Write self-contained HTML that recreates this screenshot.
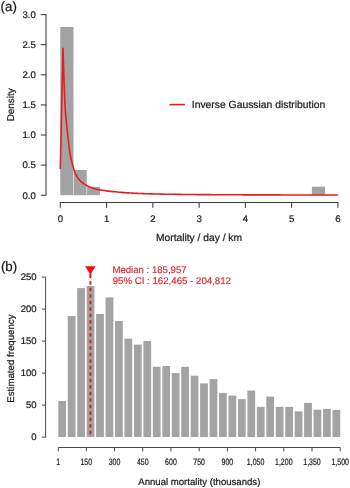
<!DOCTYPE html><html><head><meta charset="utf-8"><style>
html,body{margin:0;padding:0;background:#fff;width:350px;height:488px;overflow:hidden}
svg{display:block;filter:blur(0.25px)}text{font-family:"Liberation Sans",sans-serif;fill:#1a1a1a;stroke:#1a1a1a;stroke-width:0.22px;text-rendering:geometricPrecision}text.r{fill:#e0232b;stroke:#e0232b;stroke-width:0.15px}
</style></head><body>
<svg width="350" height="488" viewBox="0 0 350 488">
<rect width="350" height="488" fill="#fff"/>
<text x="0.6" y="11.1" font-size="13.3">(a)</text>
<rect x="60.30" y="27.00" width="13.22" height="168.20" fill="#a3a3a3"/>
<rect x="73.52" y="170.00" width="13.22" height="25.20" fill="#a3a3a3"/>
<rect x="86.74" y="186.90" width="13.22" height="8.30" fill="#a3a3a3"/>
<rect x="311.88" y="186.70" width="13.22" height="8.50" fill="#a3a3a3"/>
<path d="M73.52 195.2V170M86.74 195.2V186.9" stroke="#fff" stroke-opacity="0.45" stroke-width="0.9"/>
<polyline points="60.30,169.00 63.00,48.30 63.29,57.94 63.58,67.02 63.86,75.57 64.15,83.57 64.44,91.03 64.73,98.27 65.02,104.88 65.31,110.08 65.59,113.84 65.88,116.91 66.17,119.70 66.46,122.60 66.75,125.57 67.03,128.48 67.32,131.31 67.61,134.02 67.90,136.62 68.19,139.15 68.47,141.66 68.76,144.25 69.05,146.80 69.34,149.07 69.63,150.98 69.92,152.72 70.20,154.32 70.49,155.81 70.78,157.24 71.07,158.62 71.36,159.97 71.64,161.26 71.93,162.49 72.22,163.66 72.51,164.76 72.80,165.81 73.08,166.83 73.37,167.82 73.66,168.77 73.95,169.67 74.24,170.52 74.53,171.31 74.81,172.03 75.10,172.71 75.39,173.35 75.68,173.97 75.97,174.56 76.25,175.12 76.54,175.65 76.83,176.16 77.12,176.65 77.41,177.11 77.69,177.55 77.98,177.96 78.27,178.37 78.56,178.76 78.85,179.14 79.14,179.51 79.42,179.86 79.71,180.21 80.00,180.54 80.50,181.08 82.66,182.99 84.83,184.45 86.99,185.64 89.16,186.69 91.32,187.61 93.48,188.36 95.65,188.97 97.81,189.48 99.97,189.90 102.14,190.25 104.30,190.57 106.47,190.86 108.63,191.12 110.79,191.37 112.96,191.60 115.12,191.81 117.29,192.02 119.45,192.22 121.61,192.41 123.78,192.59 125.94,192.75 128.11,192.89 130.27,193.01 132.43,193.12 134.60,193.23 136.76,193.33 138.92,193.43 141.09,193.52 143.25,193.61 145.42,193.69 147.58,193.77 149.74,193.84 151.91,193.90 154.07,193.96 156.24,194.02 158.40,194.07 160.56,194.11 162.73,194.15 164.89,194.19 167.05,194.23 169.22,194.26 171.38,194.29 173.55,194.32 175.71,194.35 177.87,194.38 180.04,194.41 182.20,194.44 184.37,194.46 186.53,194.48 188.69,194.50 190.86,194.52 193.02,194.54 195.18,194.56 197.35,194.58 199.51,194.60 201.68,194.61 203.84,194.63 206.00,194.64 208.17,194.66 210.33,194.67 212.50,194.68 214.66,194.70 216.82,194.71 218.99,194.72 221.15,194.73 223.32,194.75 225.48,194.76 227.64,194.77 229.81,194.78 231.97,194.79 234.13,194.80 236.30,194.80 238.46,194.81 240.63,194.82 242.79,194.83 244.95,194.84 247.12,194.84 249.28,194.85 251.45,194.85 253.61,194.86 255.77,194.87 257.94,194.87 260.10,194.88 262.26,194.88 264.43,194.89 266.59,194.89 268.76,194.90 270.92,194.90 273.08,194.91 275.25,194.91 277.41,194.92 279.58,194.92 281.74,194.93 283.90,194.93 286.07,194.94 288.23,194.94 290.39,194.95 292.56,194.95 294.72,194.96 296.89,194.96 299.05,194.96 301.21,194.97 303.38,194.97 305.54,194.97 307.71,194.98 309.87,194.98 312.03,194.98 314.20,194.99 316.36,194.99 318.53,194.99 320.69,194.99 322.85,194.99 325.02,195.00 327.18,195.00 329.34,195.00 331.51,195.00 333.67,195.00 335.84,195.00 338.00,195.00" fill="none" stroke="#e81c1c" stroke-width="1.6" stroke-linejoin="round"/>
<path d="M46 195.20V14.60" stroke="#3c3c3c" stroke-width="1.05" fill="none"/>
<path d="M40.8 195.20H46.5" stroke="#3c3c3c" stroke-width="1.05"/>
<text x="35.8" y="198.55" font-size="9.6" text-anchor="end">0.0</text>
<path d="M40.8 165.10H46.5" stroke="#3c3c3c" stroke-width="1.05"/>
<text x="35.8" y="168.45" font-size="9.6" text-anchor="end">0.5</text>
<path d="M40.8 135.00H46.5" stroke="#3c3c3c" stroke-width="1.05"/>
<text x="35.8" y="138.35" font-size="9.6" text-anchor="end">1.0</text>
<path d="M40.8 104.90H46.5" stroke="#3c3c3c" stroke-width="1.05"/>
<text x="35.8" y="108.25" font-size="9.6" text-anchor="end">1.5</text>
<path d="M40.8 74.80H46.5" stroke="#3c3c3c" stroke-width="1.05"/>
<text x="35.8" y="78.15" font-size="9.6" text-anchor="end">2.0</text>
<path d="M40.8 44.70H46.5" stroke="#3c3c3c" stroke-width="1.05"/>
<text x="35.8" y="48.05" font-size="9.6" text-anchor="end">2.5</text>
<path d="M40.8 14.60H46.5" stroke="#3c3c3c" stroke-width="1.05"/>
<text x="35.8" y="17.95" font-size="9.6" text-anchor="end">3.0</text>
<path d="M60.30 207.7V202.4H337.92V207.7" stroke="#3c3c3c" stroke-width="1.05" fill="none"/>
<path d="M106.57 202.4V207.7" stroke="#3c3c3c" stroke-width="1.05"/>
<path d="M152.84 202.4V207.7" stroke="#3c3c3c" stroke-width="1.05"/>
<path d="M199.11 202.4V207.7" stroke="#3c3c3c" stroke-width="1.05"/>
<path d="M245.38 202.4V207.7" stroke="#3c3c3c" stroke-width="1.05"/>
<path d="M291.65 202.4V207.7" stroke="#3c3c3c" stroke-width="1.05"/>
<text x="60.30" y="221.6" font-size="9.6" text-anchor="middle">0</text>
<text x="106.57" y="221.6" font-size="9.6" text-anchor="middle">1</text>
<text x="152.84" y="221.6" font-size="9.6" text-anchor="middle">2</text>
<text x="199.11" y="221.6" font-size="9.6" text-anchor="middle">3</text>
<text x="245.38" y="221.6" font-size="9.6" text-anchor="middle">4</text>
<text x="291.65" y="221.6" font-size="9.6" text-anchor="middle">5</text>
<text x="337.92" y="221.6" font-size="9.6" text-anchor="middle">6</text>
<text x="199" y="240.6" font-size="10.25" text-anchor="middle">Mortality / day / km</text>
<text transform="translate(13.9,104.8) rotate(-90)" x="0" y="0" font-size="9.9" text-anchor="middle">Density</text>
<path d="M169.5 104.6H184.9" stroke="#e81c1c" stroke-width="1.6"/>
<text x="191.8" y="108.3" font-size="10.35">Inverse Gaussian distribution</text>
<text x="0.9" y="271.4" font-size="13.3">(b)</text>
<rect x="58.30" y="401.00" width="7.75" height="36.00" fill="#a3a3a3"/>
<rect x="67.75" y="316.00" width="7.75" height="121.00" fill="#a3a3a3"/>
<rect x="77.21" y="288.10" width="7.75" height="148.90" fill="#a3a3a3"/>
<rect x="86.66" y="286.00" width="7.75" height="151.00" fill="#a3a3a3"/>
<rect x="96.12" y="314.00" width="7.75" height="123.00" fill="#a3a3a3"/>
<rect x="105.57" y="297.40" width="7.75" height="139.60" fill="#a3a3a3"/>
<rect x="115.03" y="321.00" width="7.75" height="116.00" fill="#a3a3a3"/>
<rect x="124.48" y="338.60" width="7.75" height="98.40" fill="#a3a3a3"/>
<rect x="133.94" y="344.60" width="7.75" height="92.40" fill="#a3a3a3"/>
<rect x="143.39" y="341.00" width="7.75" height="96.00" fill="#a3a3a3"/>
<rect x="152.85" y="366.80" width="7.75" height="70.20" fill="#a3a3a3"/>
<rect x="162.31" y="366.00" width="7.75" height="71.00" fill="#a3a3a3"/>
<rect x="171.76" y="373.10" width="7.75" height="63.90" fill="#a3a3a3"/>
<rect x="181.22" y="366.80" width="7.75" height="70.20" fill="#a3a3a3"/>
<rect x="190.67" y="375.70" width="7.75" height="61.30" fill="#a3a3a3"/>
<rect x="200.12" y="383.40" width="7.75" height="53.60" fill="#a3a3a3"/>
<rect x="209.58" y="379.10" width="7.75" height="57.90" fill="#a3a3a3"/>
<rect x="219.04" y="392.90" width="7.75" height="44.10" fill="#a3a3a3"/>
<rect x="228.49" y="395.60" width="7.75" height="41.40" fill="#a3a3a3"/>
<rect x="237.94" y="399.10" width="7.75" height="37.90" fill="#a3a3a3"/>
<rect x="247.40" y="390.60" width="7.75" height="46.40" fill="#a3a3a3"/>
<rect x="256.86" y="406.90" width="7.75" height="30.10" fill="#a3a3a3"/>
<rect x="266.31" y="396.60" width="7.75" height="40.40" fill="#a3a3a3"/>
<rect x="275.76" y="406.90" width="7.75" height="30.10" fill="#a3a3a3"/>
<rect x="285.22" y="406.90" width="7.75" height="30.10" fill="#a3a3a3"/>
<rect x="294.68" y="411.40" width="7.75" height="25.60" fill="#a3a3a3"/>
<rect x="304.13" y="402.90" width="7.75" height="34.10" fill="#a3a3a3"/>
<rect x="313.58" y="409.70" width="7.75" height="27.30" fill="#a3a3a3"/>
<rect x="323.04" y="408.90" width="7.75" height="28.10" fill="#a3a3a3"/>
<rect x="332.50" y="409.90" width="7.75" height="27.10" fill="#a3a3a3"/>
<path d="M90.4 274.85V437" stroke="#d42027" stroke-width="2" stroke-dasharray="3.3 3.2" fill="none"/>
<path d="M85 266.2H95.6L91.3 273.2L91.3 275.5H89.5L89.5 273.2Z" fill="#f20d0d"/>
<text class="r" x="112.4" y="273.3" font-size="9.62">Median : 185,957</text>
<text class="r" x="112.7" y="284.1" font-size="9.68">95% CI : 162,465 - 204,812</text>
<path d="M45.6 437.15V277.10" stroke="#4a4a4a" stroke-width="1" fill="none"/>
<path d="M41.9 437.15H46.1" stroke="#4a4a4a" stroke-width="1"/>
<text x="36.6" y="440.45" font-size="9.55" text-anchor="end">0</text>
<path d="M41.9 405.14H46.1" stroke="#4a4a4a" stroke-width="1"/>
<text x="36.6" y="408.44" font-size="9.55" text-anchor="end">50</text>
<path d="M41.9 373.13H46.1" stroke="#4a4a4a" stroke-width="1"/>
<text x="36.6" y="376.43" font-size="9.55" text-anchor="end">100</text>
<path d="M41.9 341.12H46.1" stroke="#4a4a4a" stroke-width="1"/>
<text x="36.6" y="344.42" font-size="9.55" text-anchor="end">150</text>
<path d="M41.9 309.11H46.1" stroke="#4a4a4a" stroke-width="1"/>
<text x="36.6" y="312.41" font-size="9.55" text-anchor="end">200</text>
<path d="M41.9 277.10H46.1" stroke="#4a4a4a" stroke-width="1"/>
<text x="36.6" y="280.40" font-size="9.55" text-anchor="end">250</text>
<path d="M58.30 451.4V447.5H340.20V451.4" stroke="#4a4a4a" stroke-width="1" fill="none"/>
<path d="M86.32 447.5V451.4" stroke="#4a4a4a" stroke-width="1"/>
<path d="M114.53 447.5V451.4" stroke="#4a4a4a" stroke-width="1"/>
<path d="M142.74 447.5V451.4" stroke="#4a4a4a" stroke-width="1"/>
<path d="M170.95 447.5V451.4" stroke="#4a4a4a" stroke-width="1"/>
<path d="M199.16 447.5V451.4" stroke="#4a4a4a" stroke-width="1"/>
<path d="M227.36 447.5V451.4" stroke="#4a4a4a" stroke-width="1"/>
<path d="M255.57 447.5V451.4" stroke="#4a4a4a" stroke-width="1"/>
<path d="M283.78 447.5V451.4" stroke="#4a4a4a" stroke-width="1"/>
<path d="M311.99 447.5V451.4" stroke="#4a4a4a" stroke-width="1"/>
<text transform="translate(58.30,464.6) scale(0.76,1)" x="0" y="0" font-size="9.2" text-anchor="middle">1</text>
<text transform="translate(86.32,464.6) scale(0.76,1)" x="0" y="0" font-size="9.2" text-anchor="middle">150</text>
<text transform="translate(114.53,464.6) scale(0.76,1)" x="0" y="0" font-size="9.2" text-anchor="middle">300</text>
<text transform="translate(142.74,464.6) scale(0.76,1)" x="0" y="0" font-size="9.2" text-anchor="middle">450</text>
<text transform="translate(170.95,464.6) scale(0.76,1)" x="0" y="0" font-size="9.2" text-anchor="middle">600</text>
<text transform="translate(199.16,464.6) scale(0.76,1)" x="0" y="0" font-size="9.2" text-anchor="middle">750</text>
<text transform="translate(227.36,464.6) scale(0.76,1)" x="0" y="0" font-size="9.2" text-anchor="middle">900</text>
<text transform="translate(255.57,464.6) scale(0.76,1)" x="0" y="0" font-size="9.2" text-anchor="middle">1,050</text>
<text transform="translate(283.78,464.6) scale(0.76,1)" x="0" y="0" font-size="9.2" text-anchor="middle">1,200</text>
<text transform="translate(311.99,464.6) scale(0.76,1)" x="0" y="0" font-size="9.2" text-anchor="middle">1,350</text>
<text transform="translate(340.20,464.6) scale(0.76,1)" x="0" y="0" font-size="9.2" text-anchor="middle">1,500</text>
<text x="199.3" y="485.1" font-size="9.6" text-anchor="middle">Annual mortality (thousands)</text>
<text transform="translate(14.1,358.6) rotate(-90)" x="0" y="0" font-size="9.7" text-anchor="middle">Estimated frequency</text>
</svg></body></html>
